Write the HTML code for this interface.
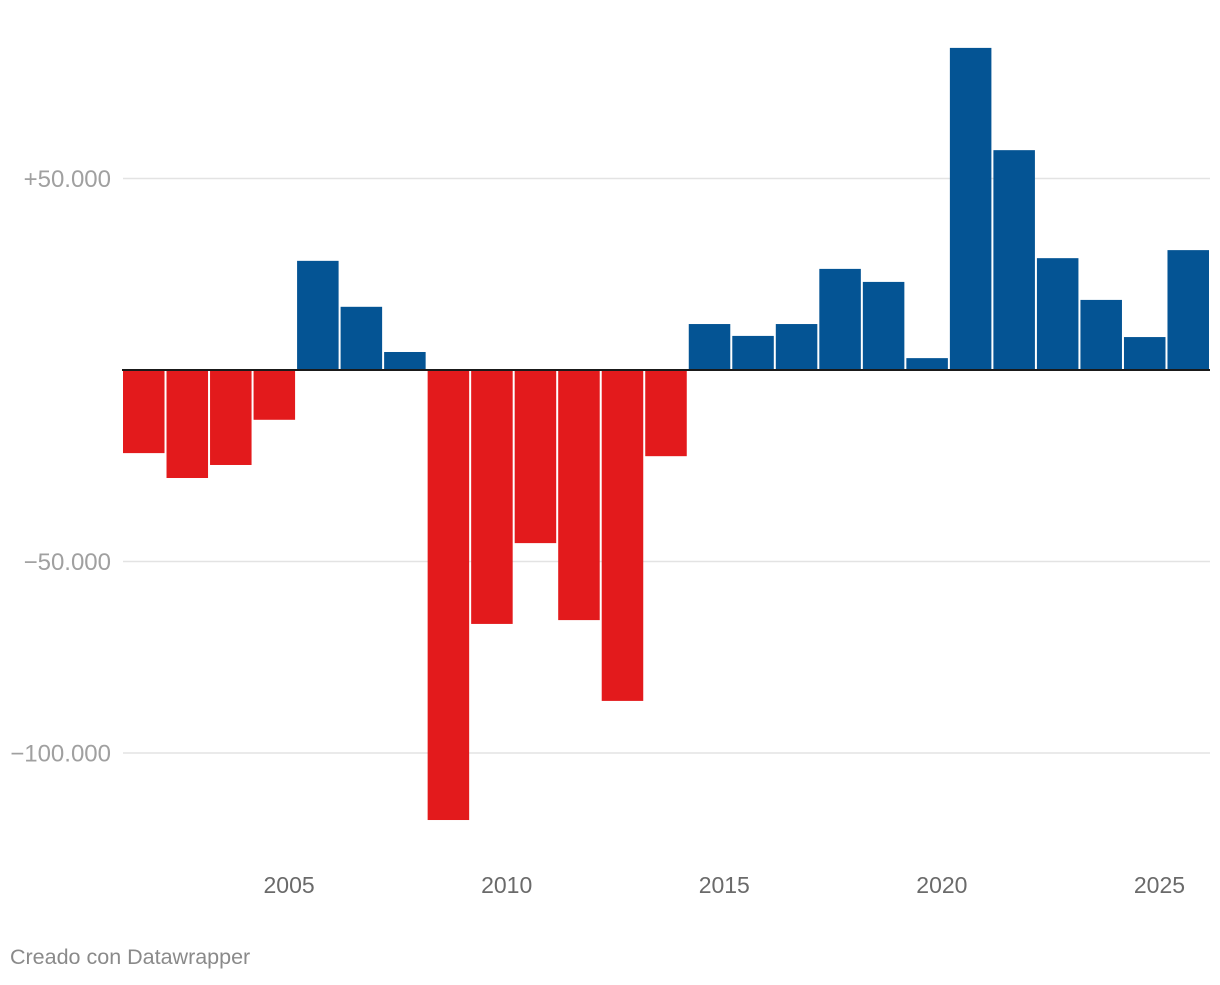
<!DOCTYPE html>
<html><head><meta charset="utf-8"><style>
body{margin:0;background:#fff;width:1220px;height:980px;overflow:hidden}
svg text{font-family:"Liberation Sans",sans-serif}
</style></head><body>
<svg id="c" width="1220" height="980"></svg>
<script>
const years=[2001,2002,2003,2004,2005,2006,2007,2008,2009,2010,2011,2012,2013,2014,2015,2016,2017,2018,2019,2020,2021,2022,2023,2024,2025];
const values=[-21700,-28200,-24800,-13000,28500,16500,4700,-117500,-66300,-45200,-65300,-86400,-22500,12000,8900,12000,26400,23000,3100,84100,57400,29200,18300,8600,31300];
const yTicks=[50000,-50000,-100000];
const yTickLabels=["+50.000","−50.000","−100.000"];
const xTickYears=[2005,2010,2015,2020,2025];
const NS="http://www.w3.org/2000/svg";
const svg=document.getElementById('c');
const x0=122,x1=1210,bw=(x1-x0)/years.length;
function y(v){return 370-v*191.5/50000;}
function xs(i){return x0+i*bw;}
function mk(t,a){const e=document.createElementNS(NS,t);for(const k in a)e.setAttribute(k,a[k]);svg.appendChild(e);return e;}
yTicks.forEach((v,i)=>{
 const l=mk('line',{x1:123,x2:1210,y1:y(v),y2:y(v),stroke:'#e3e3e3','stroke-width':1.5});
 
 
 const t=mk('text',{x:111,y:y(v)+8.5,'text-anchor':'end','font-size':24,fill:'#a0a0a0'});
 t.textContent=yTickLabels[i];
 
 
});
values.forEach((v,i)=>{
 const top=Math.min(y(v),y(0)),h=Math.abs(y(v)-y(0));
 const r=mk('rect',{x:xs(i)+1,y:top,width:bw-2,height:h,fill:v<0?'#e31a1c':'#045494'});
 
 
});
const b=mk('line',{x1:122,x2:1210,y1:y(0),y2:y(0),stroke:'#1a1a1a','stroke-width':2});


xTickYears.forEach(yr=>{
 const i=years.indexOf(yr);
 const t=mk('text',{x:xs(i)-7,y:893,'text-anchor':'middle','font-size':23,fill:'#6a6a6a'});
 t.textContent=yr;
 
 
});
const f=mk('text',{x:10,y:964,'font-size':21.5,fill:'#8a8a8a'});
f.textContent='Creado con Datawrapper';


</script>
</body></html>
